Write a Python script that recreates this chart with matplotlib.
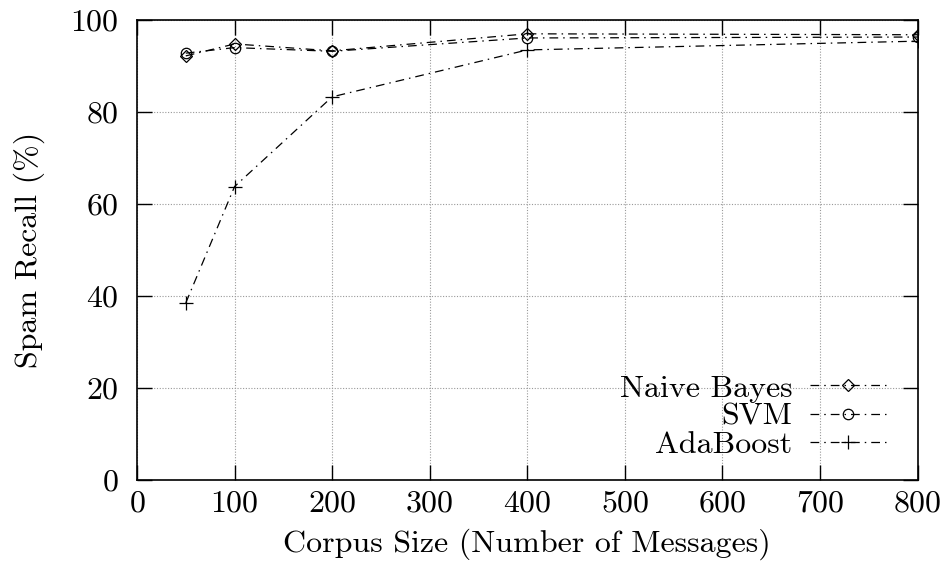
import matplotlib
matplotlib.use("Agg")
import matplotlib.pyplot as plt

plt.rcParams['font.family'] = 'cmr10'
plt.rcParams['axes.formatter.use_mathtext'] = True
plt.rcParams['mathtext.fontset'] = 'cm'

# corpus sizes and spam recall (%)
corpus_size = [50, 100, 200, 400, 800]
naive_bayes = [92.2, 94.8, 93.3, 97.0, 96.8]
svm = [92.8, 94.0, 93.2, 96.1, 96.3]
adaboost = [38.5, 63.8, 83.3, 93.5, 95.4]

fig = plt.figure(figsize=(9.48, 5.67), dpi=100)
ax = fig.add_axes([0.1445, 0.1534, 0.8235, 0.8113])

dash = (0, (7, 4, 1.2, 4))
common = dict(color='black', linewidth=0.9, linestyle=dash,
              markerfacecolor='none', markeredgecolor='black',
              markeredgewidth=0.9)
ax.plot(corpus_size, naive_bayes, marker='D', label='Naive Bayes',
        markersize=6.5, **common)
ax.plot(corpus_size, svm, marker='o', label='SVM', markersize=7.5, **common)
ax.plot(corpus_size, adaboost, marker='+', label='AdaBoost',
        markersize=10, **common)

ax.set_xlim(0, 800)
ax.set_ylim(0, 100)
ax.set_xticks(range(0, 801, 100))
ax.set_yticks(range(0, 101, 20))
ax.grid(True, color='#999999', linestyle=(0, (1, 1.5)), linewidth=0.8)
ax.tick_params(direction='in', length=11, width=1, top=True, right=True,
               labelsize=23)
ax.tick_params(axis='y', pad=13)
ax.tick_params(axis='x', pad=7)
for s in ax.spines.values():
    s.set_linewidth(1.2)

ax.set_xlabel('Corpus Size (Number of Messages)', fontsize=23, labelpad=8)
ax.set_ylabel('Spam Recall (%)', fontsize=23, labelpad=18)

ax.legend(loc='lower right', bbox_to_anchor=(0.96, 0.045), frameon=False,
          markerfirst=False, numpoints=1, fontsize=23, handlelength=2.4,
          labelspacing=0.0, handletextpad=0.55, borderpad=0, borderaxespad=0)

fig.savefig('out.png', dpi=100)
